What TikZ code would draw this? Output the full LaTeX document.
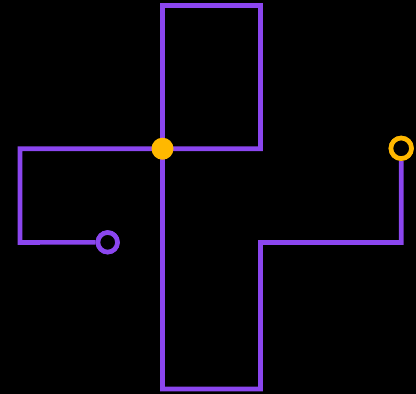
\documentclass[tikz,border=0pt]{standalone}
\definecolor{vio}{HTML}{8B46EF}
\definecolor{amber}{HTML}{FFB800}
\begin{document}
\begin{tikzpicture}[x=1pt,y=-1pt,
  wire/.style={draw=vio,line width=4.6pt,line join=miter},
  ring/.style={circle,inner sep=0pt,minimum size=#1,line width=4.6pt,fill=black},
  jdot/.style={circle,inner sep=0pt,minimum size=22pt,fill=amber}]
\fill[black] (0,0) rectangle (416,394);
\useasboundingbox (0,0) rectangle (416,394);
\coordinate (a1) at (20,242.5);
\coordinate (a2) at (20,148.7);
\coordinate (jc) at (162.5,148.7);
\coordinate (t1) at (162.5,5.5);
\coordinate (t2) at (260.5,5.5);
\coordinate (t3) at (260.5,148.7);
\coordinate (b1) at (162.5,389);
\coordinate (b2) at (260.5,389);
\coordinate (b3) at (260.5,242.5);
\coordinate (b4) at (401.2,242.5);
\node[ring=19.5pt,draw=vio] (s) at (107.7,242.3) {};
\node[ring=20.5pt,draw=amber] (e) at (401.2,148.3) {};
\draw[wire] (s.west) -- (a1) -- (a2) -- (jc) -- (t1) -- (t2) -- (t3) -- (jc) -- (b1) -- (b2) -- (b3) -- (b4) -- (e.south);
\node[ring=19.5pt,draw=vio] at (s) {};
\node[ring=20.5pt,draw=amber] at (e) {};
\node[jdot] (j) at (jc) {};
\end{tikzpicture}
\end{document}
